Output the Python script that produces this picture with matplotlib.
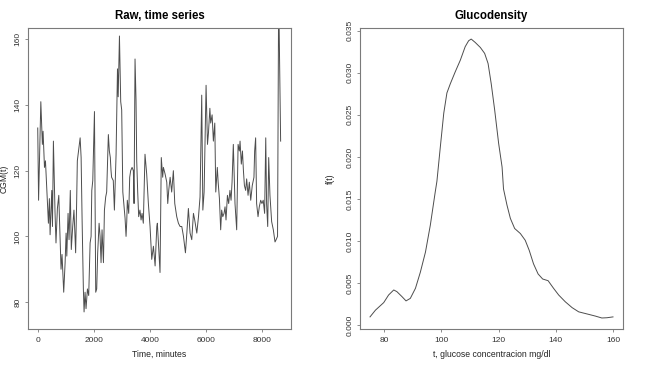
import matplotlib
matplotlib.use("Agg")
import matplotlib.pyplot as plt

plt.rcParams["font.family"] = ["Liberation Sans", "DejaVu Sans"]

# CGM time series (minutes, mg/dl)
minutes = [0, 30, 110, 165, 190, 240, 275, 320, 380, 415, 440, 500, 525, 558, 615, 650,
           700, 750, 770, 830, 865, 925, 975, 1010, 1035, 1080, 1115, 1160, 1195, 1245,
           1290, 1350, 1385, 1410, 1510, 1545, 1580, 1625, 1650, 1685, 1720, 1770, 1815,
           1865, 1900, 1925, 1960, 2020, 2065, 2100, 2135, 2185, 2220, 2255, 2290, 2340,
           2375, 2420, 2455, 2515, 2550, 2585, 2610, 2630, 2690, 2730, 2790, 2840, 2865,
           2910, 2955, 2990, 3030, 3075, 3110, 3145, 3170, 3190, 3240, 3275, 3310, 3360,
           3405, 3430, 3465, 3500, 3525, 3560, 3595, 3640, 3680, 3715, 3760, 3820, 3880,
           3940, 4000, 4060, 4120, 4180, 4240, 4260, 4310, 4355, 4400, 4450, 4475, 4535,
           4595, 4630, 4665, 4715, 4770, 4830, 4880, 4950, 5010, 5070, 5130, 5190, 5260,
           5310, 5365, 5425, 5485, 5545, 5590, 5665, 5725, 5780, 5840, 5880, 5925, 5995,
           6045, 6080, 6130, 6160, 6210, 6255, 6305, 6340, 6395, 6425, 6470, 6515, 6550,
           6590, 6635, 6670, 6705, 6755, 6800, 6845, 6885, 6920, 6965, 7025, 7085, 7135,
           7180, 7205, 7250, 7290, 7325, 7360, 7405, 7440, 7490, 7535, 7585, 7640, 7700,
           7725, 7760, 7795, 7845, 7890, 7940, 7985, 8030, 8080, 8120, 8150, 8190, 8225,
           8270, 8330, 8390, 8450, 8490, 8540, 8580, 8650]
cgm = [133, 111, 141, 128, 132, 121, 123, 115, 104, 111.5, 100.5, 114, 103, 129, 107.5, 98,
       108.5, 112.5, 106.5, 90, 94.5, 83, 92, 101, 94, 107, 99, 114, 96, 103,
       108, 95, 110, 123, 130, 124, 105, 84, 77, 83, 78, 84, 82,
       98, 100, 114, 117, 138, 83, 84, 95, 104, 100, 92, 102, 92,
       108, 112, 113.5, 131, 126, 124, 120, 118, 117, 108, 125, 151, 142.5,
       161, 141, 138.5, 113.5, 109, 105.5, 100, 104.5, 111, 107, 118, 120, 121,
       120, 110, 154, 141.5, 123, 113.5, 106, 108, 105, 107, 104, 125, 119,
       110, 103, 93, 97, 91, 103, 104, 96, 89, 124, 118, 121, 119,
       116.5, 110, 114, 118, 113.5, 120, 110, 106, 104, 103, 103, 100, 95,
       101, 108.5, 101, 99, 107, 105, 101, 106, 112, 143, 108, 113.5, 146,
       128, 131.5, 139, 134.5, 137, 129, 134.5, 113.5, 121, 116.5, 111.5, 102, 108,
       106, 107, 109, 105, 112.5, 110, 114, 111, 116.5, 128, 110, 102, 128,
       126, 129, 122, 126, 120, 115.5, 114, 117.5, 112.5, 116.5, 111, 115.5, 118,
       126, 130, 110, 106, 109, 111, 110, 111, 107, 130, 110, 103, 124,
       112.5, 104.5, 102, 98.3, 99, 100, 175, 129]

# Glucodensity estimate
glucose = [75, 76.9, 79.8, 81.5, 83.3, 84.4, 86.2, 87.6, 89.1, 90.9, 92.6, 94.4, 96.1,
           97.8, 98.4, 99.6, 100.8, 101.9, 103.1, 104.8, 106.6, 108.3, 109.5, 110.4,
           111.8, 113.6, 115.1, 116.3, 117.4, 118.6, 120.0, 121.2, 121.7, 122.9, 124.1,
           125.6, 127.6, 129.3, 130.7, 132.2, 133.8, 135.4, 137.3, 139.2, 141.0, 143.3,
           145.7, 148.0, 151.5, 153.8, 156.1, 157.9, 160]
density = [0.0010, 0.0018, 0.0027, 0.0036, 0.0042, 0.0040, 0.0034, 0.0029, 0.0032, 0.0044,
           0.0063, 0.0087, 0.0119, 0.0158, 0.0171, 0.0212, 0.0252, 0.0276, 0.0287, 0.0301,
           0.0315, 0.0331, 0.0338, 0.0340, 0.0336, 0.0330, 0.0323, 0.0311, 0.0287, 0.0256,
           0.0216, 0.0188, 0.0162, 0.0143, 0.0127, 0.0115, 0.0109, 0.0101, 0.0089, 0.0073,
           0.0061, 0.0055, 0.0053, 0.0044, 0.0036, 0.0028, 0.0021, 0.0016, 0.0013, 0.0011,
           0.00087, 0.0009, 0.0010]

line_col = "#4d4d4d"
frame_col = "#7a7a7a"

fig = plt.figure(figsize=(6.65, 3.65), dpi=100)
ax1 = fig.add_axes([0.0426, 0.0995, 0.3946, 0.823])
ax2 = fig.add_axes([0.5418, 0.0995, 0.3946, 0.823])


def style(ax):
    for s in ax.spines.values():
        s.set_color(frame_col)
        s.set_linewidth(0.8)
    ax.tick_params(length=2.5, width=0.6, color=frame_col, labelsize=6, pad=3.3,
                   labelcolor="#333333")
    ax.tick_params(axis="y", labelrotation=90, pad=2.3)
    for lab in ax.get_yticklabels():
        lab.set_va("center")


# raw CGM panel
ax1.plot(minutes, cgm, color=line_col, linewidth=0.7)
ax1.set_xlim(-335, 9010)
ax1.set_ylim(71.9, 163.35)
ax1.set_xticks([0, 2000, 4000, 6000, 8000])
ax1.set_yticks([80, 100, 120, 140, 160])
style(ax1)
ax1.set_title("Raw, time series", fontsize=8.3, fontweight="bold", pad=7)
ax1.set_xlabel("Time, minutes", fontsize=6.2, color="#222222")
ax1.set_ylabel("CGM(t)", fontsize=6.2, color="#222222")
ax1.yaxis.set_label_coords(-0.074, 0.5)
ax1.xaxis.set_label_coords(0.5, -0.072)

# density panel
ax2.plot(glucose, density, color=line_col, linewidth=0.7)
ax2.set_xlim(71.6, 163.4)
ax2.set_ylim(-0.0004, 0.03528)
ax2.set_xticks([80, 100, 120, 140, 160])
ax2.set_yticks([0.000, 0.005, 0.010, 0.015, 0.020, 0.025, 0.030, 0.035])
ax2.set_yticklabels(["0.000", "0.005", "0.010", "0.015", "0.020", "0.025", "0.030", "0.035"])
style(ax2)
ax2.set_title("Glucodensity", fontsize=8.3, fontweight="bold", pad=7)
ax2.set_xlabel("t, glucose concentracion mg/dl", fontsize=6.2, color="#222222")
ax2.set_ylabel("f(t)", fontsize=6.2, color="#222222")
ax2.yaxis.set_label_coords(-0.095, 0.5)
ax2.xaxis.set_label_coords(0.5, -0.072)

fig.savefig("out.png", dpi=100)
